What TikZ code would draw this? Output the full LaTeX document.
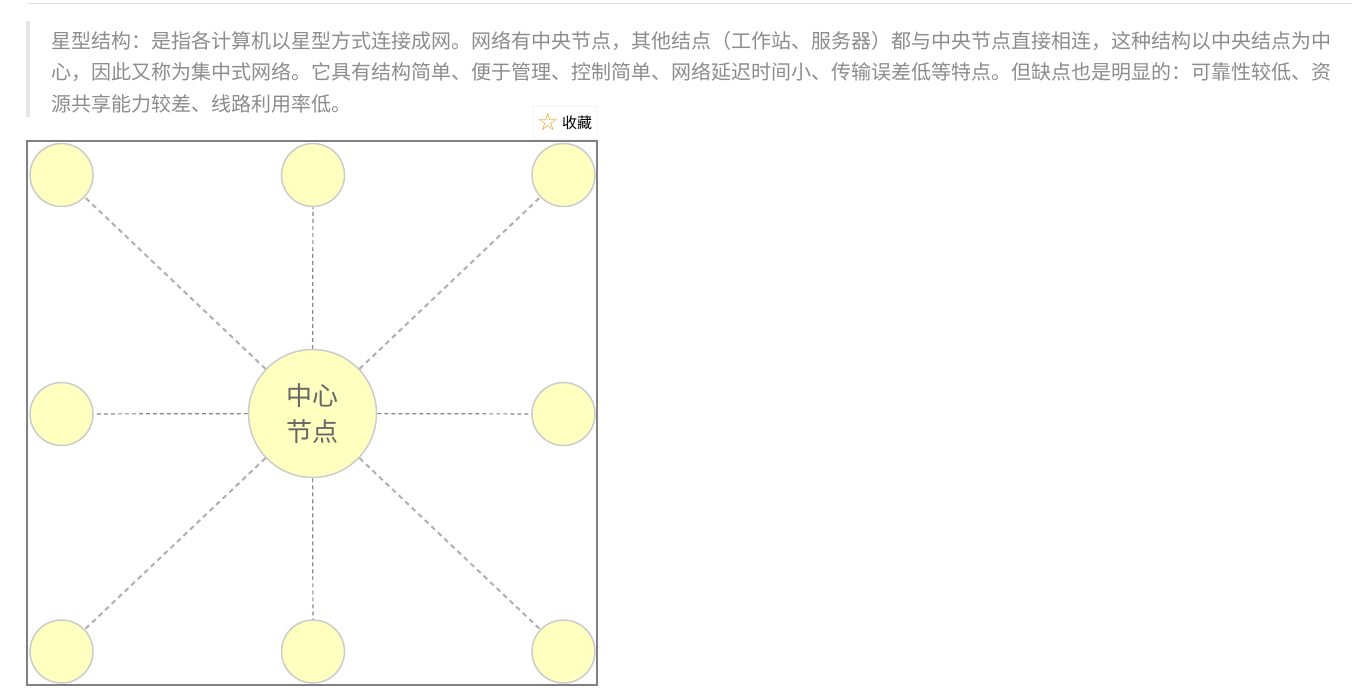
\documentclass[tikz,border=0pt]{standalone}
\usepackage{fontspec}
\newfontfamily\cjk{Noto Sans CJK SC}
\newfontfamily\symfont{DejaVu Sans}
\definecolor{txtgray}{HTML}{8C8C8C}
\definecolor{hubtext}{HTML}{666666}
\definecolor{padyellow}{HTML}{FFFFC0}
\definecolor{ringgray}{HTML}{CCCCCC}
\definecolor{framegray}{HTML}{808080}
\definecolor{linkgray}{HTML}{888888}
\definecolor{dlinkgray}{HTML}{B0B0B0}
\definecolor{topgray}{HTML}{E0E0E0}
\definecolor{bargray}{HTML}{E6E6E6}
\definecolor{btngray}{HTML}{DDDDDD}
\definecolor{starorange}{HTML}{F5A623}

\begin{document}
\begin{tikzpicture}[x=1pt,y=-1pt,pc/.style={circle,draw=ringgray,line width=1.5pt,fill=padyellow,minimum size=63pt,inner sep=0pt},hub/.style={pc,minimum size=128pt,font=\cjk\fontsize{26}{36}\selectfont,text=hubtext,align=center},link/.style={draw=linkgray,line width=1.2pt,dash pattern=on 4pt off 3pt},dlink/.style={draw=dlinkgray,line width=2pt,dash pattern=on 5pt off 4pt},para/.style={anchor=base west,inner sep=0pt,font=\cjk\fontsize{20}{20}\selectfont,text=txtgray}]
\useasboundingbox (0,0) rectangle (1352,696);
\draw[topgray,line width=1pt] (27,3) -- (1352,3);
\fill[bargray] (26,21) rectangle (30,117);
\node[para] (l1) at (51,48) {星型结构：是指各计算机以星型方式连接成网。网络有中央节点，其他结点（工作站、服务器）都与中央节点直接相连，这种结构以中央结点为中};
\node[para] (l2) at (51,79.5) {心，因此又称为集中式网络。它具有结构简单、便于管理、控制简单、网络延迟时间小、传输误差低等特点。但缺点也是明显的：可靠性较低、资};
\node[para] (l3) at (51,111) {源共享能力较差、线路利用率低。};
\node[draw=btngray,fill=white,rounded corners=2pt,minimum width=64pt,minimum height=33pt] (fav) at (565,122.5) {};
\node[text=starorange,font=\symfont\fontsize{24}{24}\selectfont,inner sep=0pt] (star) at (548,122) {☆};
\node[font=\cjk\fontsize{15}{15}\selectfont,inner sep=0pt] (favtxt) at (577,123) {收藏};
\draw[framegray,line width=2pt] (27,141) rectangle (597,685);
\node[hub] (hub) at (312.5,413.5) {中心\\节点};
\node[pc] (tl) at (61.5,175) {};
\node[pc] (tm) at (313,175) {};
\node[pc] (tr) at (563.5,175) {};
\node[pc] (ml) at (61.5,414) {};
\node[pc] (mr) at (563.5,414) {};
\node[pc] (bl) at (61.5,651.5) {};
\node[pc] (bm) at (313,651.5) {};
\node[pc] (br) at (563.5,651.5) {};
\draw[link](hub)--(tm);\draw[link](hub)--(bm);\draw[link](hub)--(ml);\draw[link](hub)--(mr);
\draw[dlink](hub)--(tl);\draw[dlink](hub)--(tr);\draw[dlink](hub)--(bl);\draw[dlink](hub)--(br);
\end{tikzpicture}
\end{document}
